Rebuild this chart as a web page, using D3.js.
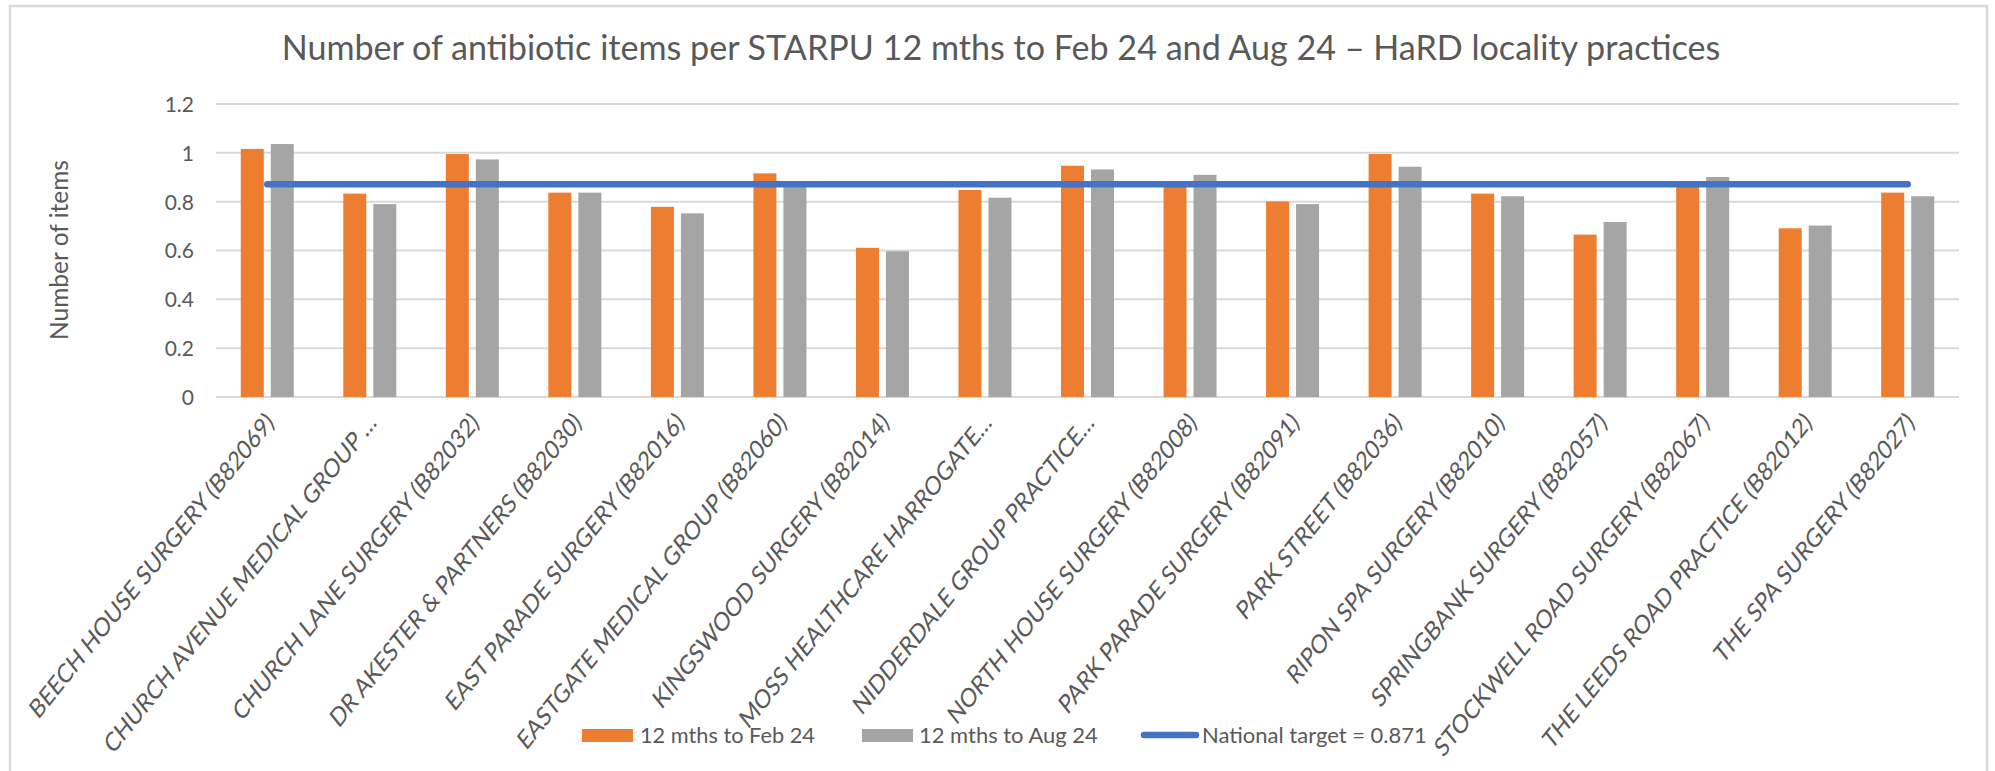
<!DOCTYPE html>
<html>
<head>
<meta charset="utf-8">
<script src="https://cdn.jsdelivr.net/npm/d3@7"></script>
<style>
  body { margin: 0; background: #fff; }
  svg text { font-family: Lato, "Open Sans", sans-serif; fill: #595959; }
</style>
</head>
<body>
<div id="chart"></div>
<script>
// practices on the x axis (long names are cut as in the original)
var practices = [
  "BEECH HOUSE SURGERY (B82069)",
  "CHURCH AVENUE MEDICAL GROUP …",
  "CHURCH LANE SURGERY (B82032)",
  "DR AKESTER & PARTNERS (B82030)",
  "EAST PARADE SURGERY (B82016)",
  "EASTGATE MEDICAL GROUP (B82060)",
  "KINGSWOOD SURGERY (B82014)",
  "MOSS HEALTHCARE HARROGATE…",
  "NIDDERDALE GROUP PRACTICE…",
  "NORTH HOUSE SURGERY (B82008)",
  "PARK PARADE SURGERY (B82091)",
  "PARK STREET (B82036)",
  "RIPON SPA SURGERY (B82010)",
  "SPRINGBANK SURGERY (B82057)",
  "STOCKWELL ROAD SURGERY (B82067)",
  "THE LEEDS ROAD PRACTICE (B82012)",
  "THE SPA SURGERY (B82027)"
];
// items per STARPU
var feb24 = [1.016, 0.833, 0.995, 0.837, 0.779, 0.916, 0.611, 0.848, 0.947, 0.868, 0.801, 0.995, 0.833, 0.665, 0.866, 0.691, 0.837];
var aug24 = [1.036, 0.790, 0.973, 0.837, 0.752, 0.876, 0.597, 0.816, 0.932, 0.910, 0.790, 0.943, 0.822, 0.717, 0.901, 0.702, 0.822];
var nationalTarget = 0.871;
var seriesNames = ["12 mths to Feb 24", "12 mths to Aug 24"];
var seriesColors = ["#ED7D31", "#A5A5A5"];
var yTicks = [0, 0.2, 0.4, 0.6, 0.8, 1, 1.2];
var titleText = "Number of antibiotic items per STARPU 12 mths to Feb 24 and Aug 24 \u2013 HaRD locality practices";

var W = 1995, H = 771;
var plot = {left: 216, right: 1959, top: 104, bottom: 397};

var svg = d3.select("#chart").append("svg")
    .attr("width", W)
    .attr("height", H);

// scale the font so that a text gets the wanted width
function fit(sel, target) {
  var len = sel.node().getComputedTextLength();
  var fs = parseFloat(sel.style("font-size"));
  sel.style("font-size", (fs * target / len) + "px");
  return fs * target / len;
}

// chart frame
svg.append("rect")
    .attr("x", 10).attr("y", 6)
    .attr("width", 1977).attr("height", 800)
    .attr("fill", "none")
    .attr("stroke", "#D9D9D9")
    .attr("stroke-width", 2.5);

var x = d3.scaleBand()
    .domain(practices)
    .range([plot.left, plot.right])
    .paddingInner(0).paddingOuter(0);

var x1 = d3.scaleBand()
    .domain([0, 1])
    .range([-26.5, 26.5])
    .paddingInner(7 / 30);

var y = d3.scaleLinear()
    .domain([0, 1.2])
    .range([plot.bottom, plot.top]);

// gridlines
svg.append("g")
  .selectAll("line")
  .data(yTicks)
  .enter().append("line")
    .attr("x1", plot.left).attr("x2", plot.right)
    .attr("y1", function(d) { return y(d); })
    .attr("y2", function(d) { return y(d); })
    .attr("stroke", "#D9D9D9")
    .attr("stroke-width", 2);

// y axis labels
var yAxis = svg.append("g")
    .attr("transform", "translate(" + (plot.left - 22) + ",0)")
    .call(d3.axisLeft(y).tickValues(yTicks).tickSize(0).tickFormat(d3.format("~g")));
yAxis.select(".domain").remove();
yAxis.selectAll("text")
    .attr("x", 0)
    .attr("dy", "0.35em")
    .style("font-size", "21px")
    .style("font-family", "Lato, sans-serif")
    .attr("fill", "#595959");

// bars
var rows = practices.map(function(p, i) { return {name: p, values: [feb24[i], aug24[i]]}; });
var groups = svg.append("g")
  .selectAll("g")
  .data(rows)
  .enter().append("g")
    .attr("transform", function(d) { return "translate(" + (x(d.name) + x.bandwidth() / 2) + ",0)"; });
groups.selectAll("rect")
    .data(function(d) { return d.values.map(function(v, k) { return {k: k, v: v}; }); })
    .enter().append("rect")
      .attr("x", function(d) { return x1(d.k); })
      .attr("width", x1.bandwidth())
      .attr("y", function(d) { return y(d.v); })
      .attr("height", function(d) { return y(0) - y(d.v); })
      .attr("fill", function(d) { return seriesColors[d.k]; });

// national target line
var cFirst = x(practices[0]) + x.bandwidth() / 2;
var cLast = x(practices[practices.length - 1]) + x.bandwidth() / 2;
svg.append("line")
    .attr("x1", cFirst).attr("x2", cLast)
    .attr("y1", y(nationalTarget)).attr("y2", y(nationalTarget))
    .attr("stroke", "#4472C4")
    .attr("stroke-width", 6.5)
    .attr("stroke-linecap", "round");

// x labels (the original picture is a bit stretched vertically)
var xl = svg.append("g")
  .selectAll("text")
  .data(practices)
  .enter().append("text")
    .attr("text-anchor", "end")
    .attr("transform", function(d) { return "translate(" + (x(d) + x.bandwidth() / 2 + 8) + "," + 424 + ") scale(1,1.25) rotate(-45)"; })
    .style("font-size", "20px")
    .text(function(d) { return d; });
var lfs = fit(d3.select(xl.nodes()[0]), 335);
xl.style("font-size", lfs + "px");

// title
var title = svg.append("text")
    .attr("x", 1001).attr("y", 60)
    .attr("text-anchor", "middle")
    .style("font-size", "30px")
    .text(titleText);
fit(title, 1439);

// y axis title
var yt = svg.append("text")
    .attr("transform", "translate(68,250) rotate(-90)")
    .attr("text-anchor", "middle")
    .style("font-size", "22px")
    .text("Number of items");
fit(yt, 180);

// legend
var legend = svg.append("g");
var lx = [582, 862];
var tx = [640, 919];
seriesNames.forEach(function(s, k) {
  legend.append("rect")
      .attr("x", lx[k]).attr("y", 729)
      .attr("width", 51).attr("height", 13)
      .attr("fill", seriesColors[k]);
  var t = legend.append("text")
      .attr("x", tx[k]).attr("y", 743)
      .style("font-size", "21px")
      .text(s);
  fit(t, k == 0 ? 175 : 179);
});
legend.append("line")
    .attr("x1", 1144).attr("x2", 1196)
    .attr("y1", 735).attr("y2", 735)
    .attr("stroke", "#4472C4")
    .attr("stroke-width", 6.5)
    .attr("stroke-linecap", "round");
var lt = legend.append("text")
    .attr("x", 1202).attr("y", 743)
    .style("font-size", "21px")
    .text("National target = " + nationalTarget);
fit(lt, 225);
</script>
</body>
</html>
